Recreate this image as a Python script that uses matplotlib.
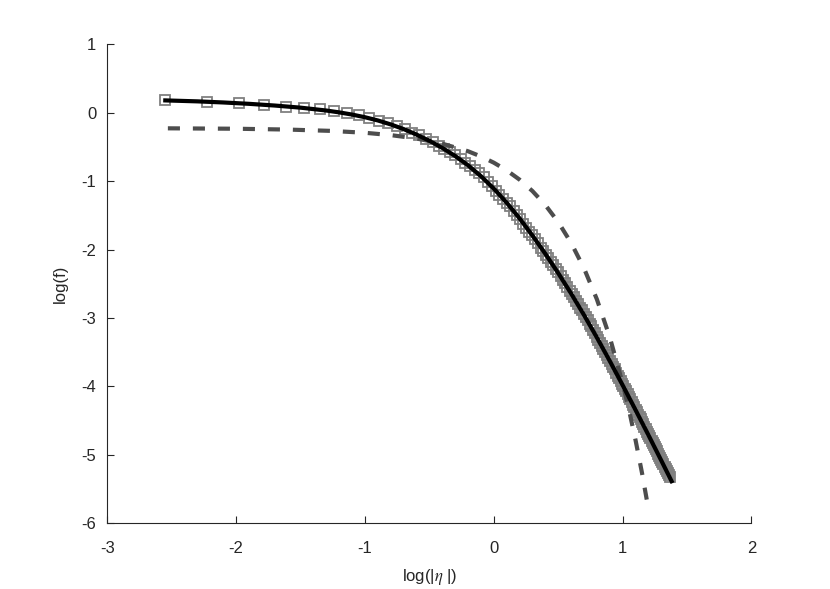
import matplotlib
matplotlib.use("Agg")
import matplotlib.pyplot as plt

plt.rcParams['font.family'] = ['Liberation Sans', 'DejaVu Sans']
plt.rcParams['mathtext.fontset'] = 'stix'

# measured points (squares), log|eta| vs log(f)
data_x = [-2.551, -2.224, -1.978, -1.780, -1.616, -1.474, -1.350, -1.240, -1.141, -1.050,
          -0.968, -0.891, -0.820, -0.754, -0.692, -0.633, -0.578, -0.525, -0.475, -0.428,
          -0.383, -0.339, -0.298, -0.258, -0.220, -0.183, -0.147, -0.113, -0.079, -0.047,
          -0.016, 0.014, 0.043, 0.072, 0.100, 0.127, 0.153, 0.178, 0.203, 0.228,
          0.252, 0.275, 0.297, 0.320, 0.341, 0.363, 0.383, 0.404, 0.424, 0.443,
          0.462, 0.481, 0.500, 0.518, 0.536, 0.553, 0.571, 0.588, 0.604, 0.621,
          0.637, 0.652, 0.668, 0.683, 0.698, 0.713, 0.728, 0.743, 0.757, 0.771,
          0.785, 0.798, 0.812, 0.825, 0.838, 0.851, 0.864, 0.877, 0.889, 0.902,
          0.914, 0.926, 0.938, 0.950, 0.961, 0.973, 0.984, 0.995, 1.006, 1.017,
          1.028, 1.039, 1.050, 1.060, 1.070, 1.081, 1.091, 1.101, 1.111, 1.121,
          1.131, 1.140, 1.150, 1.160, 1.169, 1.178, 1.188, 1.197, 1.206, 1.215,
          1.224, 1.233, 1.241, 1.250, 1.259, 1.267, 1.276, 1.284, 1.292, 1.301,
          1.309, 1.317, 1.325, 1.333, 1.341, 1.349, 1.357, 1.364]
data_y = [0.18, 0.16, 0.14, 0.11, 0.09, 0.07, 0.05, 0.02, -0.01, -0.04,
          -0.08, -0.12, -0.15, -0.19, -0.24, -0.29, -0.33, -0.38, -0.43, -0.48,
          -0.53, -0.58, -0.62, -0.68, -0.73, -0.78, -0.83, -0.88, -0.94, -1.01,
          -1.07, -1.14, -1.20, -1.26, -1.32, -1.37, -1.43, -1.49, -1.55, -1.62,
          -1.68, -1.74, -1.79, -1.85, -1.91, -1.97, -2.02, -2.08, -2.13, -2.18,
          -2.23, -2.28, -2.33, -2.39, -2.44, -2.49, -2.55, -2.60, -2.65, -2.70,
          -2.75, -2.80, -2.85, -2.89, -2.94, -2.99, -3.03, -3.08, -3.12, -3.17,
          -3.22, -3.27, -3.32, -3.36, -3.41, -3.45, -3.50, -3.54, -3.58, -3.63,
          -3.67, -3.71, -3.75, -3.80, -3.84, -3.88, -3.92, -3.96, -4.00, -4.03,
          -4.07, -4.11, -4.15, -4.19, -4.23, -4.27, -4.30, -4.34, -4.38, -4.41,
          -4.45, -4.48, -4.52, -4.55, -4.59, -4.62, -4.66, -4.69, -4.72, -4.76,
          -4.79, -4.82, -4.85, -4.89, -4.92, -4.95, -4.99, -5.02, -5.05, -5.08,
          -5.11, -5.14, -5.17, -5.20, -5.23, -5.26, -5.29, -5.33]

# solid fit curve
fit_x = [-2.55, -2.3, -2.1, -1.9, -1.7, -1.5, -1.3, -1.2, -1.1, -1.0,
         -0.9, -0.8, -0.7, -0.6, -0.5, -0.4, -0.3, -0.2, -0.1, 0.0,
         0.1, 0.2, 0.3, 0.4, 0.5, 0.6, 0.7, 0.8, 0.9, 1.0,
         1.1, 1.2, 1.3, 1.38]
fit_y = [0.180, 0.166, 0.150, 0.130, 0.105, 0.074, 0.032, 0.005, -0.027, -0.066,
         -0.113, -0.171, -0.239, -0.319, -0.410, -0.514, -0.632, -0.768, -0.927, -1.109,
         -1.315, -1.544, -1.794, -2.062, -2.344, -2.642, -2.956, -3.285, -3.628, -3.982,
         -4.343, -4.710, -5.083, -5.385]

# dashed curve
gauss_x = [-2.53, -2.0, -1.6, -1.27, -1.0, -0.8, -0.6, -0.4, -0.2, -0.1,
           0.0, 0.1, 0.2, 0.3, 0.4, 0.5, 0.6, 0.7, 0.8, 0.9,
           1.0, 1.05, 1.1, 1.15, 1.2]
gauss_y = [-0.228, -0.234, -0.246, -0.265, -0.293, -0.327, -0.377, -0.452, -0.563, -0.639,
           -0.730, -0.842, -0.978, -1.145, -1.349, -1.598, -1.902, -2.273, -2.726, -3.280,
           -3.956, -4.349, -4.783, -5.262, -5.790]

fig = plt.figure(figsize=(8.3, 5.89), dpi=100)
ax = fig.add_axes([0.1293, 0.1115, 0.7761, 0.8133])

ax.plot(data_x, data_y, 's', ms=7, mfc='none', mec=(0.5, 0.5, 0.5), mew=1.3, zorder=2)
ax.plot(gauss_x, gauss_y, '--', color=(0.3, 0.3, 0.3), lw=3, dashes=(2.9, 3.1), zorder=3)
ax.plot(fit_x, fit_y, '-', color='black', lw=3, zorder=4)

ax.set_xlim(-3, 2)
ax.set_ylim(-6, 1)
ax.set_xticks([-3, -2, -1, 0, 1, 2])
ax.set_yticks([-6, -5, -4, -3, -2, -1, 0, 1])
ax.set_xticklabels(['-3', '-2', '-1', '0', '1', '2'])
ax.set_yticklabels(['-6', '-5', '-4', '-3', '-2', '-1', '0', '1'])

for s in ['top', 'right']:
    ax.spines[s].set_visible(False)
for s in ['left', 'bottom']:
    ax.spines[s].set_color('0.15')
    ax.spines[s].set_linewidth(0.8)
ax.tick_params(direction='in', length=5, width=0.8, color='0.15',
               labelsize=12, labelcolor='0.15')
ax.tick_params(axis='y', pad=8)
ax.tick_params(axis='x', pad=13)

ax.set_xlabel(r'log(|$\eta$ |)', fontsize=12, color='0.15', labelpad=8)
ax.set_ylabel('log(f)', fontsize=12, color='0.15', labelpad=10)

fig.savefig('out.png', dpi=100)
